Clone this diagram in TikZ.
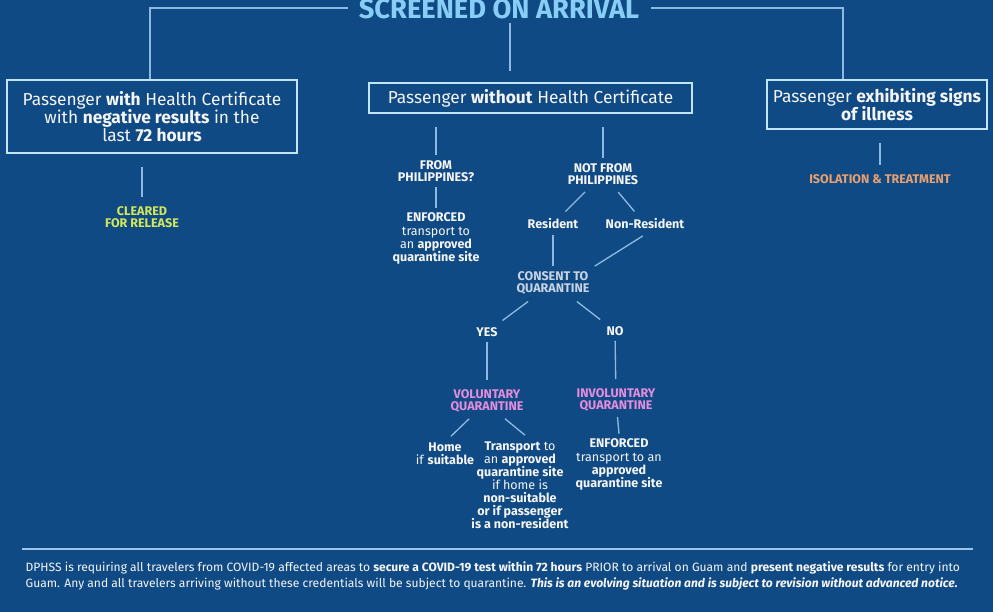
\documentclass[tikz,border=0pt]{standalone}
\usepackage{fontspec}
\setmainfont{Fira Sans}
\usepackage{tikz}
\usetikzlibrary{calc}

\definecolor{bgblue}{RGB}{16,74,132}
\definecolor{linkblue}{RGB}{140,185,225}
\definecolor{boxline}{RGB}{195,228,242}
\definecolor{titleblue}{RGB}{135,205,245}
\definecolor{clearyellow}{RGB}{210,232,90}
\definecolor{isoorange}{RGB}{232,160,112}
\definecolor{quarpink}{RGB}{228,140,222}
\definecolor{consentgray}{RGB}{200,212,228}
\definecolor{textwhite}{RGB}{245,245,245}

\begin{document}
\begin{tikzpicture}[
            x = 0.75pt, % one pixel of the reference
            y = -0.75pt, % y runs downwards
            text = textwhite,
            line width = 1pt%,
        ]

        \tikzstyle{box}=[
            draw = boxline,
            line width = 1.5pt,
            align = center,
            font = \fontsize{13}{13.6}\selectfont,
            inner sep = 0pt
        ]
        \tikzstyle{tag}=[
            align = center,
            font = \fontsize{9.4}{9.8}\selectfont,
            inner sep = 1pt,
            outer sep = 3pt
        ]
        \tikzstyle{captag}=[
            tag,
            font = \fontsize{9.4}{9.3}\selectfont\bfseries
        ]
        \tikzstyle{link}=[
            draw = linkblue,
            line width = 1pt
        ]

        \fill[bgblue] (0,0) rectangle (993,612);
        \useasboundingbox (0,0) rectangle (993,612);

        \node[text=titleblue,font=\fontsize{20.5}{22}\selectfont\bfseries,
              inner xsep=8pt,inner ysep=0pt] (title) at (499,9.5) {SCREENED ON ARRIVAL};

        \node[box,minimum width=217.5pt,minimum height=54.75pt] (boxL) at (152,116.5)
            {Passenger \textbf{with} Health Certificate\\ with \textbf{negative results} in the\\ last \textbf{72 hours}};
        \node[box,minimum width=242pt,minimum height=22.5pt]    (boxM) at (530.5,98)
            {Passenger \textbf{without} Health Certificate};
        \node[box,minimum width=165pt,minimum height=36.75pt]   (boxR) at (877,104.5)
            {Passenger \textbf{exhibiting signs}\\ \textbf{of illness}};

        \node[captag,text=clearyellow] (clear) at (142,217) {CLEARED\\ FOR RELEASE};
        \node[captag,text=isoorange]   (iso)   at (880,179) {ISOLATION \& TREATMENT};

        \node[captag] (fromph)   at (436,171)   {FROM\\ PHILIPPINES?};
        \node[tag]    (enfA)     at (436,238.5) {\textbf{ENFORCED}\\ transport to\\ an \textbf{approved}\\ \textbf{quarantine site}};
        \node[captag] (notfrom)  at (603,174)   {NOT FROM\\ PHILIPPINES};
        \node[captag] (resident) at (553,224)   {Resident};
        \node[captag] (nonres)   at (645,224)   {Non-Resident};
        \node[captag,text=consentgray] (consent) at (553,283) {CONSENT TO\\ QUARANTINE};
        \node[captag] (yes)      at (487,332)   {YES};
        \node[captag] (no)       at (615,331)   {NO};
        \node[captag,text=quarpink] (vol)   at (487,401) {VOLUNTARY\\ QUARANTINE};
        \node[captag,text=quarpink] (invol) at (616,400) {INVOLUNTARY\\ QUARANTINE};
        \node[tag]    (home)     at (445,453.5) {\textbf{Home}\\ if \textbf{suitable}};
        \node[tag]    (transp)   at (520,485)   {\textbf{Transport} to\\ an \textbf{approved}\\ \textbf{quarantine site}\\ if home is\\ \textbf{non-suitable}\\ \textbf{or if passenger}\\ \textbf{is a non-resident}};
        \node[tag]    (enfB)     at (619,464.5) {\textbf{ENFORCED}\\ transport to an\\ \textbf{approved}\\ \textbf{quarantine site}};

        % top of the tree
        \draw[link] ([yshift=1.1pt]title.west) -| ([xshift=-1.5pt]boxL.north);
        \draw[link] ([yshift=1.1pt]title.east) -| ([xshift=-25.5pt]boxR.north);
        \draw[link,shorten <=2pt,shorten >=8pt] ([xshift=-15.4pt]boxM.north |- title.south) -- ([xshift=-15.4pt]boxM.north);

        % under the three boxes
        \path[link,shorten <=9.75pt,shorten >=3pt] (boxL.south -| clear.north) edge (clear.north);
        \path[link,shorten <=9.5pt,shorten >=3pt]  (boxR.south -| iso.north)   edge (iso.north);
        \path[link,shorten <=9.5pt]  (boxM.south -| fromph.north)  edge (fromph.north);
        \path[link,shorten <=9.5pt]  (boxM.south -| notfrom.north) edge (notfrom.north);

        % without certificate
        \path[link] (fromph)   edge (enfA.north);
        \path[link,shorten <=2pt,shorten >=2pt] (notfrom)  edge (resident);
        \path[link,shorten <=2pt,shorten >=2pt] (notfrom)  edge (nonres);
        \path[link] (resident) edge (resident |- consent.north);
        \path[link,shorten <=2pt] (nonres.south) edge (consent.north east);
        \path[link,shorten <=2pt,shorten >=2pt] (consent)  edge (yes);
        \path[link,shorten <=2pt,shorten >=2pt] (consent)  edge (no);
        \path[link,shorten >=3pt] (yes)  edge (vol);
        \path[link,shorten >=3pt] (no)   edge (invol);
        \path[link,shorten <=1pt,shorten >=1pt] ([xshift=-12.75pt]vol.south) edge ([xshift=3.75pt]home.north);
        \path[link,shorten <=1pt,shorten >=1pt] ([xshift=12.75pt]vol.south)  edge ([xshift=4.5pt]transp.north);
        \path[link] (invol)  edge (enfB.north);

        % footer
        \draw[draw=linkblue!85!white,line width=1.5pt] (22,549) -- (973,549);
        \node[anchor=north west,align=left,inner sep=0pt,
              font=\fontsize{9.05}{12}\selectfont] (note) at (25,561)
            {DPHSS is requiring all travelers from COVID-19 affected areas to \textbf{secure a COVID-19 test within 72 hours} PRIOR to arrival on Guam and \textbf{present negative results} for entry into\\
             Guam. Any and all travelers arriving without these credentials will be subject to quarantine. \textbf{\textit{This is an evolving situation and is subject to revision without advanced notice.}}};

    \end{tikzpicture}
\end{document}
